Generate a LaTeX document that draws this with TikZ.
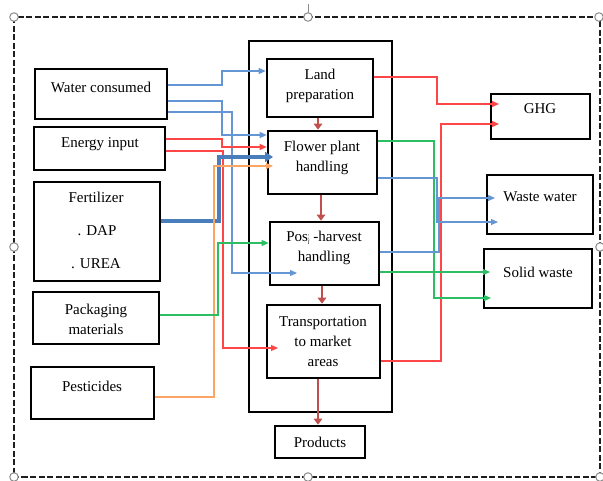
\documentclass[tikz,border=0pt]{standalone}
\usepackage{fontspec}
\setmainfont{Liberation Serif}
\usetikzlibrary{arrows.meta}

\definecolor{lineblue}{RGB}{100,150,212}
\definecolor{thickblue}{RGB}{74,126,187}
\definecolor{linered}{RGB}{255,70,70}
\definecolor{lineorange}{RGB}{250,165,100}
\definecolor{linegreen}{RGB}{45,190,100}
\definecolor{flowbrown}{RGB}{192,80,77}
\definecolor{framegray}{RGB}{30,30,30}
\definecolor{handlegray}{RGB}{140,140,140}

\begin{document}
\begin{tikzpicture}[x=1pt,y=-1pt,
  box/.style={draw=black, line width=2.6pt, inner sep=0pt},
  group/.style={draw=black, line width=1.6pt, inner sep=0pt},
  txt/.style={font=\fontsize{15}{20}\selectfont, align=center, inner sep=0pt},
  thin/.style={line width=1.2pt, -{Triangle[length=7pt,width=6pt]}},
  bluel/.style={thin, draw=lineblue, lineblue},
  redl/.style={thin, draw=linered, linered},
  greenl/.style={thin, draw=linegreen, linegreen},
  orangel/.style={thin, draw=lineorange, lineorange},
  fatblue/.style={line width=3.8pt, draw=thickblue, thickblue, -{Triangle[length=8pt,width=10pt]}},
  stage/.style={line width=2.6pt, draw=flowbrown, flowbrown, -{Triangle[length=6pt,width=8.5pt]}},
  handle/.style={draw=handlegray, fill=white, line width=1pt, circle, minimum size=8.5pt, inner sep=0pt}
]
\useasboundingbox (0,0) rectangle (603,480);

% selection frame with its handles
\draw[framegray, line width=2pt, dash pattern=on 6pt off 2.5pt] (14,17) rectangle (600,477);
\draw[handlegray, line width=0.8pt] (308,4) -- (308,13);
\foreach \hx/\hy/\hn in {14/17/ha, 308/17/hb, 599/17/hc, 14/247/hd, 600/247/he, 14/477/hf, 308/477/hg, 600/477/hh}
  \node[handle] (\hn) at (\hx,\hy) {};

% inputs
\node[box, minimum width=132pt, minimum height=50pt] (water) at (101,94) {};
\node[txt] (waterT) at (101,87) {Water consumed};
\node[box, minimum width=131pt, minimum height=43pt] (energy) at (99.5,148.5) {};
\node[txt] (energyT) at (100,144) {Energy input};
\node[box, minimum width=126pt, minimum height=99pt] (fert) at (97,231.5) {};
\node[txt] (fertT) at (96,197) {Fertilizer};
\node[txt] (dapT) at (97,231) {. DAP};
\node[txt] (ureaT) at (96,264) {. UREA};
\node[box, minimum width=126pt, minimum height=52pt] (pack) at (96,318) {};
\node[txt] (packT) at (96,319) {Packaging\\materials};
\node[box, minimum width=123pt, minimum height=52pt] (pest) at (92.5,393) {};
\node[txt] (pestT) at (92,386) {Pesticides};

% production stages
\node[group, minimum width=143pt, minimum height=371pt] (chain) at (320.5,226.5) {};
\node[box, minimum width=106pt, minimum height=58pt] (land) at (320,88) {};
\node[txt] (landT) at (320,86) {Land\\preparation};
\node[box, minimum width=109pt, minimum height=63pt] (flower) at (322.5,162.5) {};
\node[txt] (flowerT) at (322,158) {Flower plant\\handling};
\node[box, minimum width=109pt, minimum height=63pt] (post) at (324.5,253.5) {};
\node[txt] (postT) at (324,248) {Pos\rlap{\raisebox{3.5pt}{\fontsize{6}{6}\selectfont ¦}}\raisebox{-2.5pt}{\fontsize{6}{6}\selectfont ſ} -harvest\\handling};
\node[box, minimum width=113pt, minimum height=73pt] (trans) at (323.5,341.5) {};
\node[txt] (transT) at (323,342) {Transportation\\to market\\areas};
\node[box, minimum width=90pt, minimum height=32pt] (prod) at (320,442) {};
\node[txt] (prodT) at (320,442) {Products};

% outputs
\node[box, minimum width=99pt, minimum height=45pt] (ghg) at (540.5,116.5) {};
\node[txt] (ghgT) at (540,109) {GHG};
\node[box, minimum width=106pt, minimum height=59pt] (ww) at (540,204.5) {};
\node[txt] (wwT) at (540,197) {Waste water};
\node[box, minimum width=108pt, minimum height=59pt] (sw) at (538,278.5) {};
\node[txt] (swT) at (538,272) {Solid waste};

% arrow ends that stop inside a box
\coordinate (postIn) at (297,273);
\coordinate (transIn) at (278,348);
\coordinate (fertIn) at (273,157);
\coordinate (pestIn) at (273,166);
\coordinate (ghgInA) at (499,104);
\coordinate (ghgInB) at (499,124);
\coordinate (swInA) at (491,298);
\coordinate (swInB) at (490,272);
\coordinate (wwInA) at (498,222);
\coordinate (wwInB) at (495,198);

% flow between stages
\draw[stage] (land.south -| 318,0) -- (flower.north -| 318,0);
\draw[stage] (flower.south -| 321,0) -- (post.north -| 321,0);
\draw[stage] (post.south -| 322,0) -- (trans.north -| 322,0);
\draw[stage] (trans.south -| 318,0) -- (prod.north -| 318,0);

% water
\draw[bluel] (water.east |- 0,85) -- (222,85) |- (land.west |- 0,71);
\draw[bluel] (water.east |- 0,101) -- (222,101) |- (flower.west |- 0,135);
\draw[bluel] (water.east |- 0,112) -| (232,273) -- (postIn);

% energy
\draw[redl] (energy.east |- 0,139) -- (222,139) |- (flower.west |- 0,147);
\draw[redl] (energy.east |- 0,151) -- (223,151) |- (transIn);

% fertilizer, pesticides, packaging
\draw[fatblue] (fert.east |- 0,221) -- (219,221) |- (fertIn);
\draw[orangel] (pest.east |- 0,397) -- (214,397) |- (pestIn);
\draw[greenl] (pack.east |- 0,315) -- (218,315) |- (post.west |- 0,243);

% emissions and wastes
\draw[redl] (land.east |- 0,77) -- (437,77) |- (ghgInA);
\draw[redl] (trans.east |- 0,361) -- (441,361) |- (ghgInB);
\draw[greenl] (flower.east |- 0,141) -- (434,141) |- (swInA);
\draw[greenl] (post.east |- 0,272) -- (swInB);
\draw[bluel] (flower.east |- 0,178) -- (437,178) |- (wwInA);
\draw[bluel] (post.east |- 0,252) -- (439,252) |- (wwInB);
\end{tikzpicture}
\end{document}
